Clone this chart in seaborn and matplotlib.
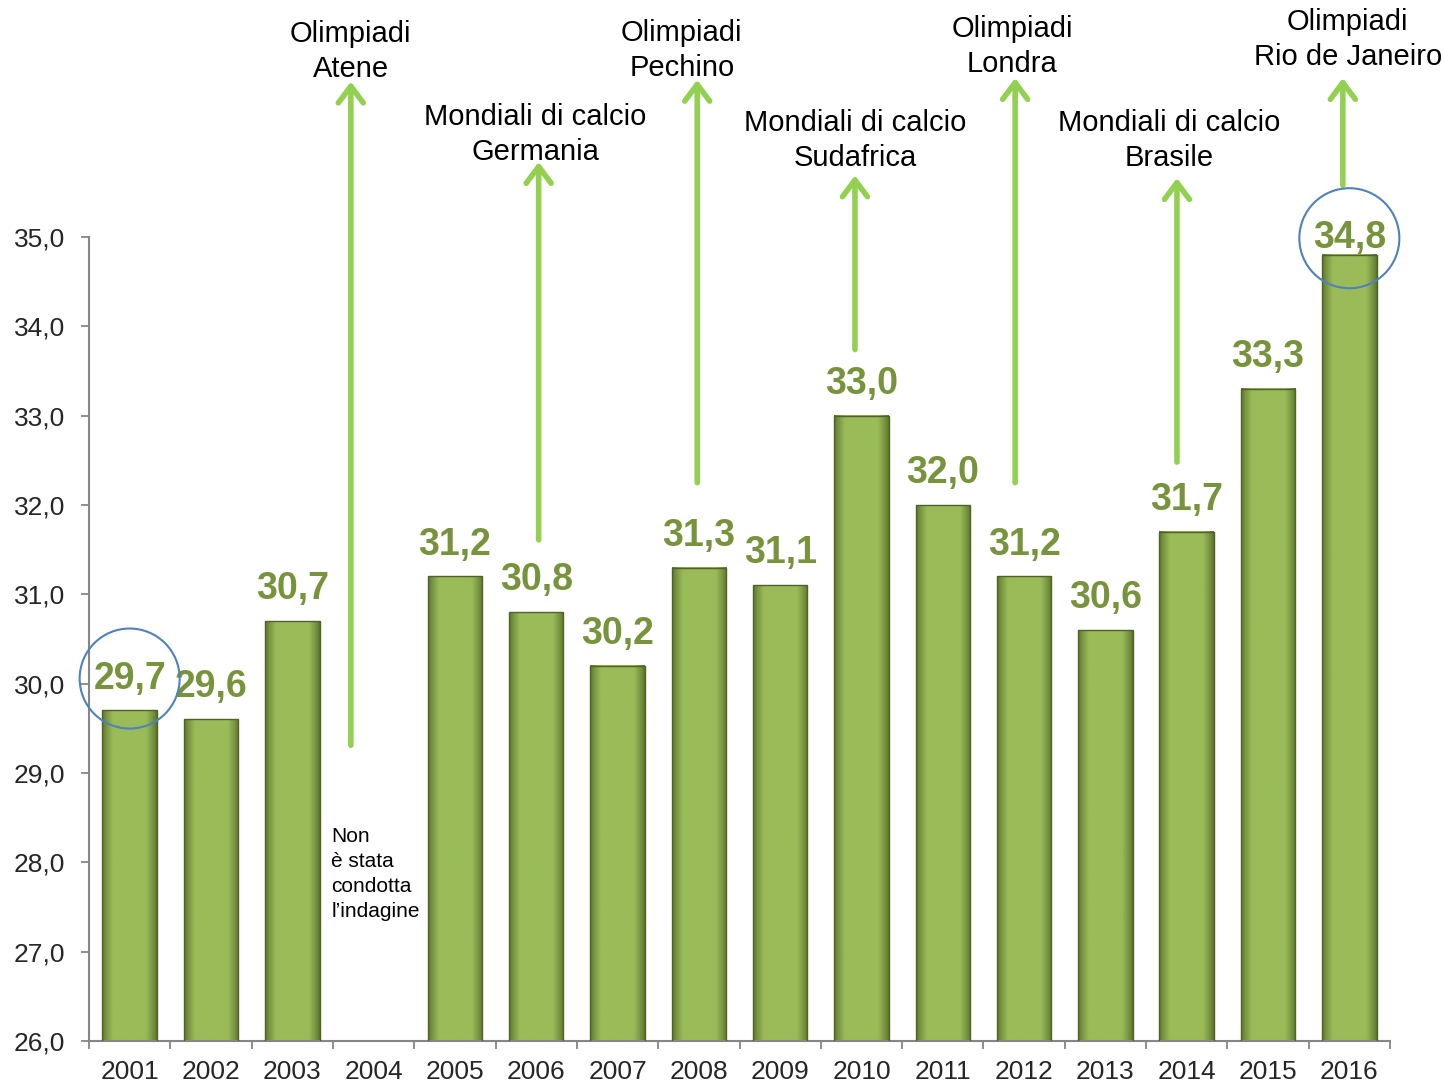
import numpy as np
import pandas as pd
import seaborn as sns
from matplotlib import pyplot as plt
import matplotlib.colors as mcolors
import matplotlib.transforms as mtransforms
from matplotlib.patches import Ellipse, FancyArrowPatch
from matplotlib.ticker import FixedLocator, FuncFormatter

# Data
years = [str(y) for y in range(2001, 2017)]
values = [29.7, 29.6, 30.7, np.nan, 31.2, 30.8, 30.2, 31.3, 31.1,
          33.0, 32.0, 31.2, 30.6, 31.7, 33.3, 34.8]
circled_years = ["2001", "2016"]

event_years = ["2004", "2006", "2008", "2010", "2012", "2014", "2016"]
event_labels = ["Olimpiadi\nAtene", "Mondiali di calcio\nGermania", "Olimpiadi\nPechino",
                "Mondiali di calcio\nSudafrica", "Olimpiadi\nLondra",
                "Mondiali di calcio\nBrasile", "Olimpiadi\nRio de Janeiro"]
arrow_from = [29.31, 31.61, 32.25, 33.74, 32.25, 32.48, 35.58]
arrow_to = [36.74, 35.84, 36.76, 35.69, 36.78, 35.66, 36.78]
label_y = [37.08, 36.15, 37.09, 36.08, 37.13, 36.08, 37.21]
# small horizontal shifts (in category units) of arrows / texts
arrow_dx = [-0.28, 0.03, -0.02, -0.08, -0.11, -0.12, -0.08]
label_dx = [-0.28, -0.01, -0.21, -0.08, -0.15, -0.21, -0.02]

missing_note = "Non\nè stata\ncondotta\nl’indagine"

# Style
sns.set_style("white")
plt.rcParams["font.family"] = ["Liberation Sans", "DejaVu Sans"]

GREEN_TXT = "#77933C"
ARROW = "#92D050"
AXIS = "#868686"
YMIN = 26.0
YMAX = 26.0 + 1041 / 89.33


def shade_bars(ax):
    """Paint a horizontal dark-light-dark gradient on every bar."""
    t = np.linspace(0, 1, 200)
    edge = np.minimum(np.minimum(t, 1 - t) / 0.2, 1.0) ** 0.8
    dark = np.array(mcolors.to_rgb("#58722A"))
    light = np.array(mcolors.to_rgb("#9BBB59"))
    img = (dark + (light - dark) * edge[:, None])[None, :, :]
    for p in ax.patches:
        h = p.get_height()
        if np.isnan(h):
            continue
        x0, w = p.get_x(), p.get_width()
        ax.imshow(img, extent=(x0, x0 + w, YMIN, h), aspect="auto",
                  interpolation="bilinear", zorder=2)
        p.set_facecolor("none")
        p.set_edgecolor("#4F6228")
        p.set_linewidth(1.0)
        p.set_zorder(3)


def main():
    df = pd.DataFrame({"year": years, "value": values})

    fig = plt.figure(figsize=(14.44, 10.85), dpi=100)
    ax = fig.add_axes([89 / 1444, 44 / 1085, 1301 / 1444, 1041 / 1085])
    sns.barplot(data=df, x="year", y="value", order=years, width=0.67,
                color="#9BBB59", ax=ax)
    shade_bars(ax)

    ax.set_xlim(-0.5, len(years) - 0.5)
    ax.set_ylim(YMIN, YMAX)
    ax.set_xlabel("")
    ax.set_ylabel("")

    # Axes
    for s in ["top", "right"]:
        ax.spines[s].set_visible(False)
    for s in ["left", "bottom"]:
        ax.spines[s].set_color(AXIS)
        ax.spines[s].set_linewidth(1.5)
    ax.spines["left"].set_bounds(26, 35)
    ax.yaxis.set_major_locator(FixedLocator(np.arange(26, 36)))
    ax.yaxis.set_major_formatter(FuncFormatter(lambda v, _: f"{v:.1f}".replace(".", ",")))
    ax.tick_params(axis="y", direction="out", length=6, width=1.3, color=AXIS,
                   pad=11, labelsize=19, left=True)
    ax.tick_params(axis="x", which="major", length=0, pad=14, labelsize=19)
    ax.xaxis.set_minor_locator(FixedLocator(np.arange(-0.5, len(years), 1.0)))
    ax.tick_params(axis="x", which="minor", direction="out", length=6, width=1.3,
                   color=AXIS, bottom=True)

    # Value labels
    for i, (yr, v) in enumerate(zip(years, values)):
        if np.isnan(v):
            continue
        off = 12 if yr == "2016" else 23
        ax.annotate(f"{v:.1f}".replace(".", ","), (i, v), xytext=(0, off),
                    textcoords="offset points", ha="center", va="center",
                    fontsize=27, fontweight="bold", color=GREEN_TXT, zorder=5)
        if yr in circled_years:
            tr = ax.transData + mtransforms.ScaledTranslation(0, off / 72, fig.dpi_scale_trans)
            ax.add_patch(Ellipse((i, v), 1.23, 1.12, transform=tr, fill=False,
                                 edgecolor="#4F81BD", lw=1.5, zorder=6, clip_on=False))

    # Missing year note
    i04 = years.index("2004")
    ax.text(i04 - 0.52, 28.4, missing_note, ha="left", va="top", fontsize=15,
            linespacing=1.4, color="black")

    # Event arrows and labels
    for yr, lab, y0, y1, ly, adx, ldx in zip(event_years, event_labels, arrow_from,
                                             arrow_to, label_y, arrow_dx, label_dx):
        i = years.index(yr)
        arr = FancyArrowPatch((i + adx, y0), (i + adx, y1),
                              arrowstyle="->,head_length=0.6,head_width=0.45",
                              mutation_scale=20, color=ARROW, lw=4,
                              shrinkA=0, shrinkB=0, zorder=4, clip_on=False)
        ax.add_patch(arr)
        ax.text(i + ldx, ly, lab, ha="center", va="center", fontsize=21,
                linespacing=1.3, color="black")

    fig.savefig("out.png", dpi=100)


if __name__ == "__main__":
    main()
